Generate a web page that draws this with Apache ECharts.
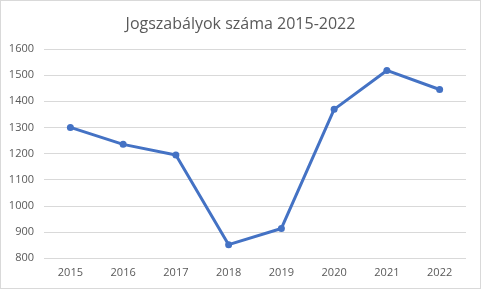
<!DOCTYPE html>
<html><head><meta charset="utf-8">
<script src="https://cdn.jsdelivr.net/npm/echarts@6/dist/echarts.min.js"></script>
<style>html,body{margin:0;padding:0;background:#fff}#c{width:481px;height:289px;box-sizing:border-box;border:1px solid #d9d9d9}</style>
</head><body><div id="c"></div>
<script>
const categories = ['2015','2016','2017','2018','2019','2020','2021','2022'];
const values = [1300, 1235, 1194, 851, 913, 1369, 1518, 1445];
const titleText = 'Jogszabályok száma 2015-2022';
const chart = echarts.init(document.getElementById('c'), null, {renderer:'canvas'});
chart.setOption({
  animation:false,
  title:{text:titleText,left:'center',top:10,textStyle:{fontFamily:'Open Sans',fontWeight:'normal',fontSize:16,color:'#595959'}},
  grid:{left:43,right:14,top:48,bottom:30},
  xAxis:{type:'category',data:categories,boundaryGap:true,
    axisLine:{show:false},axisTick:{show:false},
    axisLabel:{color:'#595959',fontSize:11,fontFamily:'Open Sans',margin:9}},
  yAxis:{type:'value',min:800,max:1600,interval:100,
    axisLine:{show:false},axisTick:{show:false},
    axisLabel:{color:'#595959',fontSize:11,fontFamily:'Open Sans',margin:10,formatter:v=>String(v)},
    splitLine:{lineStyle:{color:'#d9d9d9',width:1}}},
  series:[{type:'line',data:values,symbol:'circle',symbolSize:7,
    lineStyle:{color:'#4472C4',width:3},itemStyle:{color:'#4472C4'}}]
});
</script></body></html>
